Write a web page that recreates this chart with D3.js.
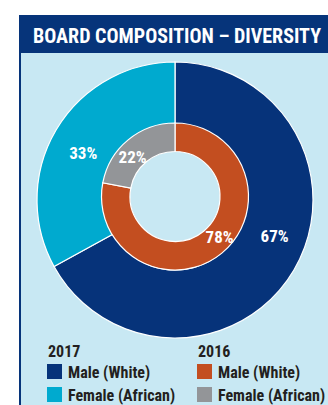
<!DOCTYPE html>
<html>
<head>
<meta charset="utf-8">
<script src="https://cdn.jsdelivr.net/npm/d3@7"></script>
<style>
  body { margin: 0; background: #fff; }
  svg { display: block; }
  text { font-family: "Liberation Sans Narrow", "Roboto Condensed", "Liberation Sans", sans-serif; font-weight: bold; }
</style>
</head>
<body>
<div id="chart"></div>
<script>
'use strict'
var title = "BOARD COMPOSITION \u2013 DIVERSITY";
var categories = ["Male (White)", "Female (African)"];
var years = ["2017", "2016"];
var values2017 = [67, 33];
var values2016 = [78, 22];
var colors2017 = ["#06337a", "#00aacf"];
var colors2016 = ["#c34e20", "#939598"];

var width = 328, height = 405;
var svg = d3.select("#chart").append("svg")
        .attr("width", width)
        .attr("height", height);

// panel
svg.append("rect")
        .attr("x", 20).attr("y", 15)
        .attr("width", width - 20).attr("height", height - 15)
        .attr("fill", "#c8e8f3");
svg.append("rect")
        .attr("x", 19).attr("y", 15)
        .attr("width", 2).attr("height", height - 15)
        .attr("fill", "#06347a");
svg.append("rect")
        .attr("x", 19).attr("y", 15)
        .attr("width", width - 19).attr("height", 38)
        .attr("fill", "#06347a");
svg.append("text")
        .attr("x", 33).attr("y", 43)
        .attr("fill", "#fff")
        .attr("font-size", 20)
        .attr("textLength", 288)
        .attr("lengthAdjust", "spacingAndGlyphs")
        .text(title);

var pie = d3.pie().sort(null).value(function (d) { return d; });

function ring(data, colors, cx, cy, r0, r1) {
    var g = svg.append("g").attr("transform", "translate(" + cx + "," + cy + ")");
    var arc = d3.arc().innerRadius(r0).outerRadius(r1);
    g.selectAll("path")
            .data(pie(data))
            .enter()
            .append("path")
            .attr("d", arc)
            .attr("fill", function (d, i) { return colors[i]; })
            .attr("stroke", "#fff")
            .attr("stroke-width", 1.2);
    return g;
}

var outer = ring(values2017, colors2017, 175, 200, 70, 138);
var inner = ring(values2016, colors2016, 175, 196.5, 45, 73.5);

// labels, placed by angle (deg from top, clockwise) and radius
function addLabels(g, data, r, angles) {
    g.selectAll("text.lbl")
            .data(pie(data))
            .enter()
            .append("text")
            .attr("class", "lbl")
            .attr("text-anchor", "middle")
            .attr("fill", "#fff")
            .attr("font-size", 17)
            .attr("x", function (d, i) { return r[i] * Math.sin(angles[i] * Math.PI / 180); })
            .attr("y", function (d, i) { return -r[i] * Math.cos(angles[i] * Math.PI / 180) + 6; })
            .text(function (d) { return d.data + "%"; });
}
addLabels(outer, values2017, [106, 103], [110, 297]);
addLabels(inner, values2016, [60, 58], [132, 313]);

// legend
var legendX = [47, 197];
var legend = svg.append("g");
years.forEach(function (y, j) {
    var cols = j === 0 ? colors2017 : colors2016;
    legend.append("text")
            .attr("x", legendX[j] + 1).attr("y", 357)
            .attr("fill", "#231f20")
            .attr("font-size", 16)
            .text(y);
    categories.forEach(function (c, i) {
        legend.append("rect")
                .attr("x", legendX[j]).attr("y", 364 + i * 23)
                .attr("width", 15).attr("height", 15)
                .attr("fill", cols[i]);
        legend.append("text")
                .attr("x", legendX[j] + 21).attr("y", 378 + i * 23)
                .attr("fill", "#231f20")
                .attr("font-size", 16)
                .text(c);
    });
});
</script>
</body>
</html>
